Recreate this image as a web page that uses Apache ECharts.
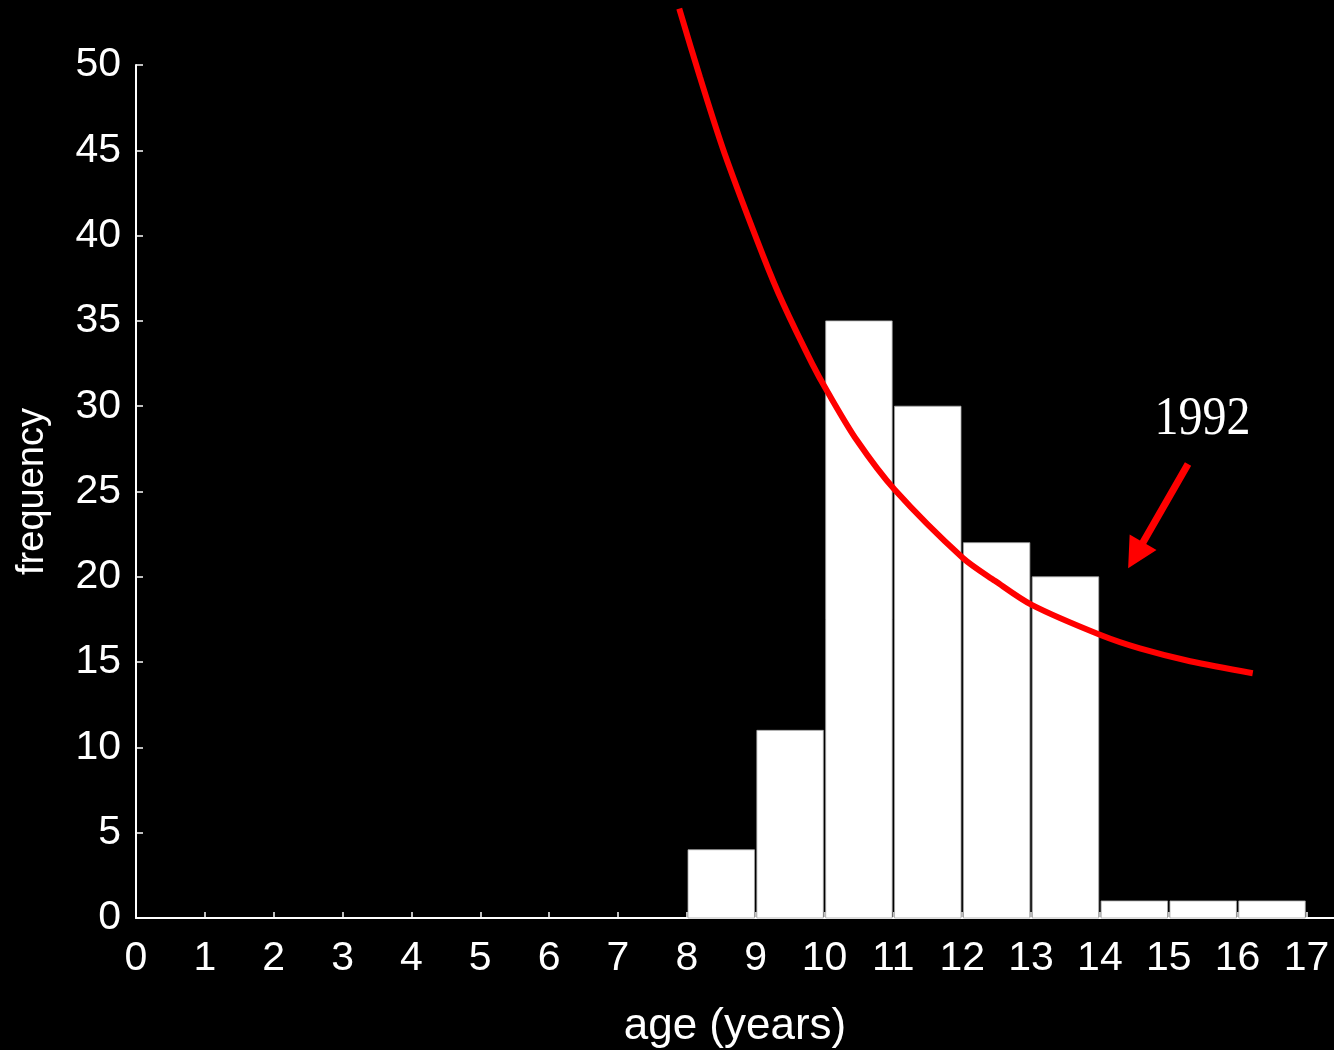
<!DOCTYPE html>
<html>
<head>
<meta charset="utf-8">
<title>age (years) – frequency</title>
<script src="https://cdn.jsdelivr.net/npm/echarts@6/dist/echarts.min.js"></script>
<style>
  html, body { margin: 0; padding: 0; background: #000; }
  #chart { width: 1334px; height: 1050px; }
</style>
</head>
<body>
<div id="chart"></div>
<script>
// Age histogram (one-year bins) and the fitted 1992 curve
const binStart = [8, 9, 10, 11, 12, 13, 14, 15, 16];
const binCount = [4, 11, 35, 30, 22, 20, 1, 1, 1];
const binWidth = 1;

const curveAge  = [7.89, 8.19, 8.55, 9.11, 9.40, 9.82, 10.05, 10.47, 11.02, 12.01, 12.48, 13.01, 14.00, 14.58, 15.31, 16.22];
const curveFreq = [53.3, 49.3, 44.8, 38.8, 36.0, 32.5, 30.8, 28.0, 25.1, 21.1, 19.75, 18.35, 16.6, 15.8, 15.05, 14.35];

const xTicks = [0, 1, 2, 3, 4, 5, 6, 7, 8, 9, 10, 11, 12, 13, 14, 15, 16, 17];

// annotation: label "1992" with an arrow pointing at the curve (data coordinates)
const noteText = '1992';
const notePos = [15.49, 29.2];
const arrowFrom = [15.28, 26.61];
const arrowTo = [14.41, 20.50];

const sans = '"Liberation Sans", Arial, Helvetica, sans-serif';

const chart = echarts.init(document.getElementById('chart'), null, { renderer: 'canvas' });

const bars = binStart.map((s, i) => [s, s + binWidth, binCount[i]]);
const curve = curveAge.map((a, i) => [a, curveFreq[i]]);

chart.setOption({
  backgroundColor: '#000',
  animation: false,
  grid: { left: 136, right: 0, top: 65, bottom: 132, containLabel: false, outerBoundsMode: 'none' },
  xAxis: {
    type: 'value',
    min: 0,
    max: 17.4,
    name: 'age (years)',
    nameLocation: 'middle',
    nameGap: 87,
    nameTextStyle: { color: '#fff', fontSize: 44, fontFamily: sans },
    axisLine: { show: true, lineStyle: { color: '#fff', width: 2 } },
    axisTick: { show: true, inside: true, length: 6, customValues: xTicks, lineStyle: { color: '#fff', width: 1.5 } },
    axisLabel: { show: true, customValues: xTicks, color: '#fff', fontSize: 41, fontFamily: sans, margin: 20 },
    splitLine: { show: false }
  },
  yAxis: {
    type: 'value',
    min: 0,
    max: 50,
    interval: 5,
    name: 'frequency',
    nameLocation: 'middle',
    nameGap: 84,
    nameTextStyle: { color: '#fff', fontSize: 38, fontFamily: sans },
    axisLine: { show: true, lineStyle: { color: '#fff', width: 2 } },
    axisTick: { show: true, inside: true, length: 7, lineStyle: { color: '#fff', width: 1.5 } },
    axisLabel: { color: '#fff', fontSize: 41, fontFamily: sans, margin: 15 },
    splitLine: { show: false }
  },
  series: [
    {
      type: 'custom',
      name: 'count',
      data: bars,
      encode: { x: [0, 1], y: 2 },
      renderItem: function (params, api) {
        const top = api.coord([api.value(0), api.value(2)]);
        const base = api.coord([api.value(1), 0]);
        return {
          type: 'rect',
          shape: { x: top[0] + 1.2, y: top[1], width: base[0] - top[0] - 2.4, height: base[1] - top[1] },
          style: { fill: '#fff', stroke: '#aaa', lineWidth: 0.8 }
        };
      },
      z: 2
    },
    {
      type: 'line',
      name: '1992',
      data: curve,
      smooth: 0.3,
      showSymbol: false,
      symbol: 'none',
      clip: false,
      lineStyle: { color: '#ff0000', width: 6, cap: 'butt' },
      z: 3
    }
  ]
});

// arrow + label, placed from data coordinates
function drawNote() {
  const p0 = chart.convertToPixel({ gridIndex: 0 }, arrowFrom);
  const p1 = chart.convertToPixel({ gridIndex: 0 }, arrowTo);
  const t = chart.convertToPixel({ gridIndex: 0 }, notePos);
  const dx = p1[0] - p0[0], dy = p1[1] - p0[1];
  const len = Math.sqrt(dx * dx + dy * dy);
  const ux = dx / len, uy = dy / len;
  const nx = -uy, ny = ux;
  const headLen = 30, headHalf = 15.5, shaftHalf = 3.6;
  const bx = p1[0] - ux * headLen, by = p1[1] - uy * headLen;
  const pts = [
    [p0[0] + nx * shaftHalf, p0[1] + ny * shaftHalf],
    [bx + nx * shaftHalf, by + ny * shaftHalf],
    [bx + nx * headHalf, by + ny * headHalf],
    [p1[0], p1[1]],
    [bx - nx * headHalf, by - ny * headHalf],
    [bx - nx * shaftHalf, by - ny * shaftHalf],
    [p0[0] - nx * shaftHalf, p0[1] - ny * shaftHalf]
  ];
  chart.setOption({
    graphic: [
      { type: 'polygon', id: 'arrow', shape: { points: pts }, style: { fill: '#ff0000' }, z: 10 },
      {
        type: 'text', id: 'note', x: t[0], y: t[1], scaleY: 1.13, z: 10,
        style: {
          text: noteText, fill: '#fff',
          font: '48px "Liberation Serif", "Times New Roman", serif',
          align: 'center', verticalAlign: 'middle'
        }
      }
    ]
  });
}
drawNote();
</script>
</body>
</html>
